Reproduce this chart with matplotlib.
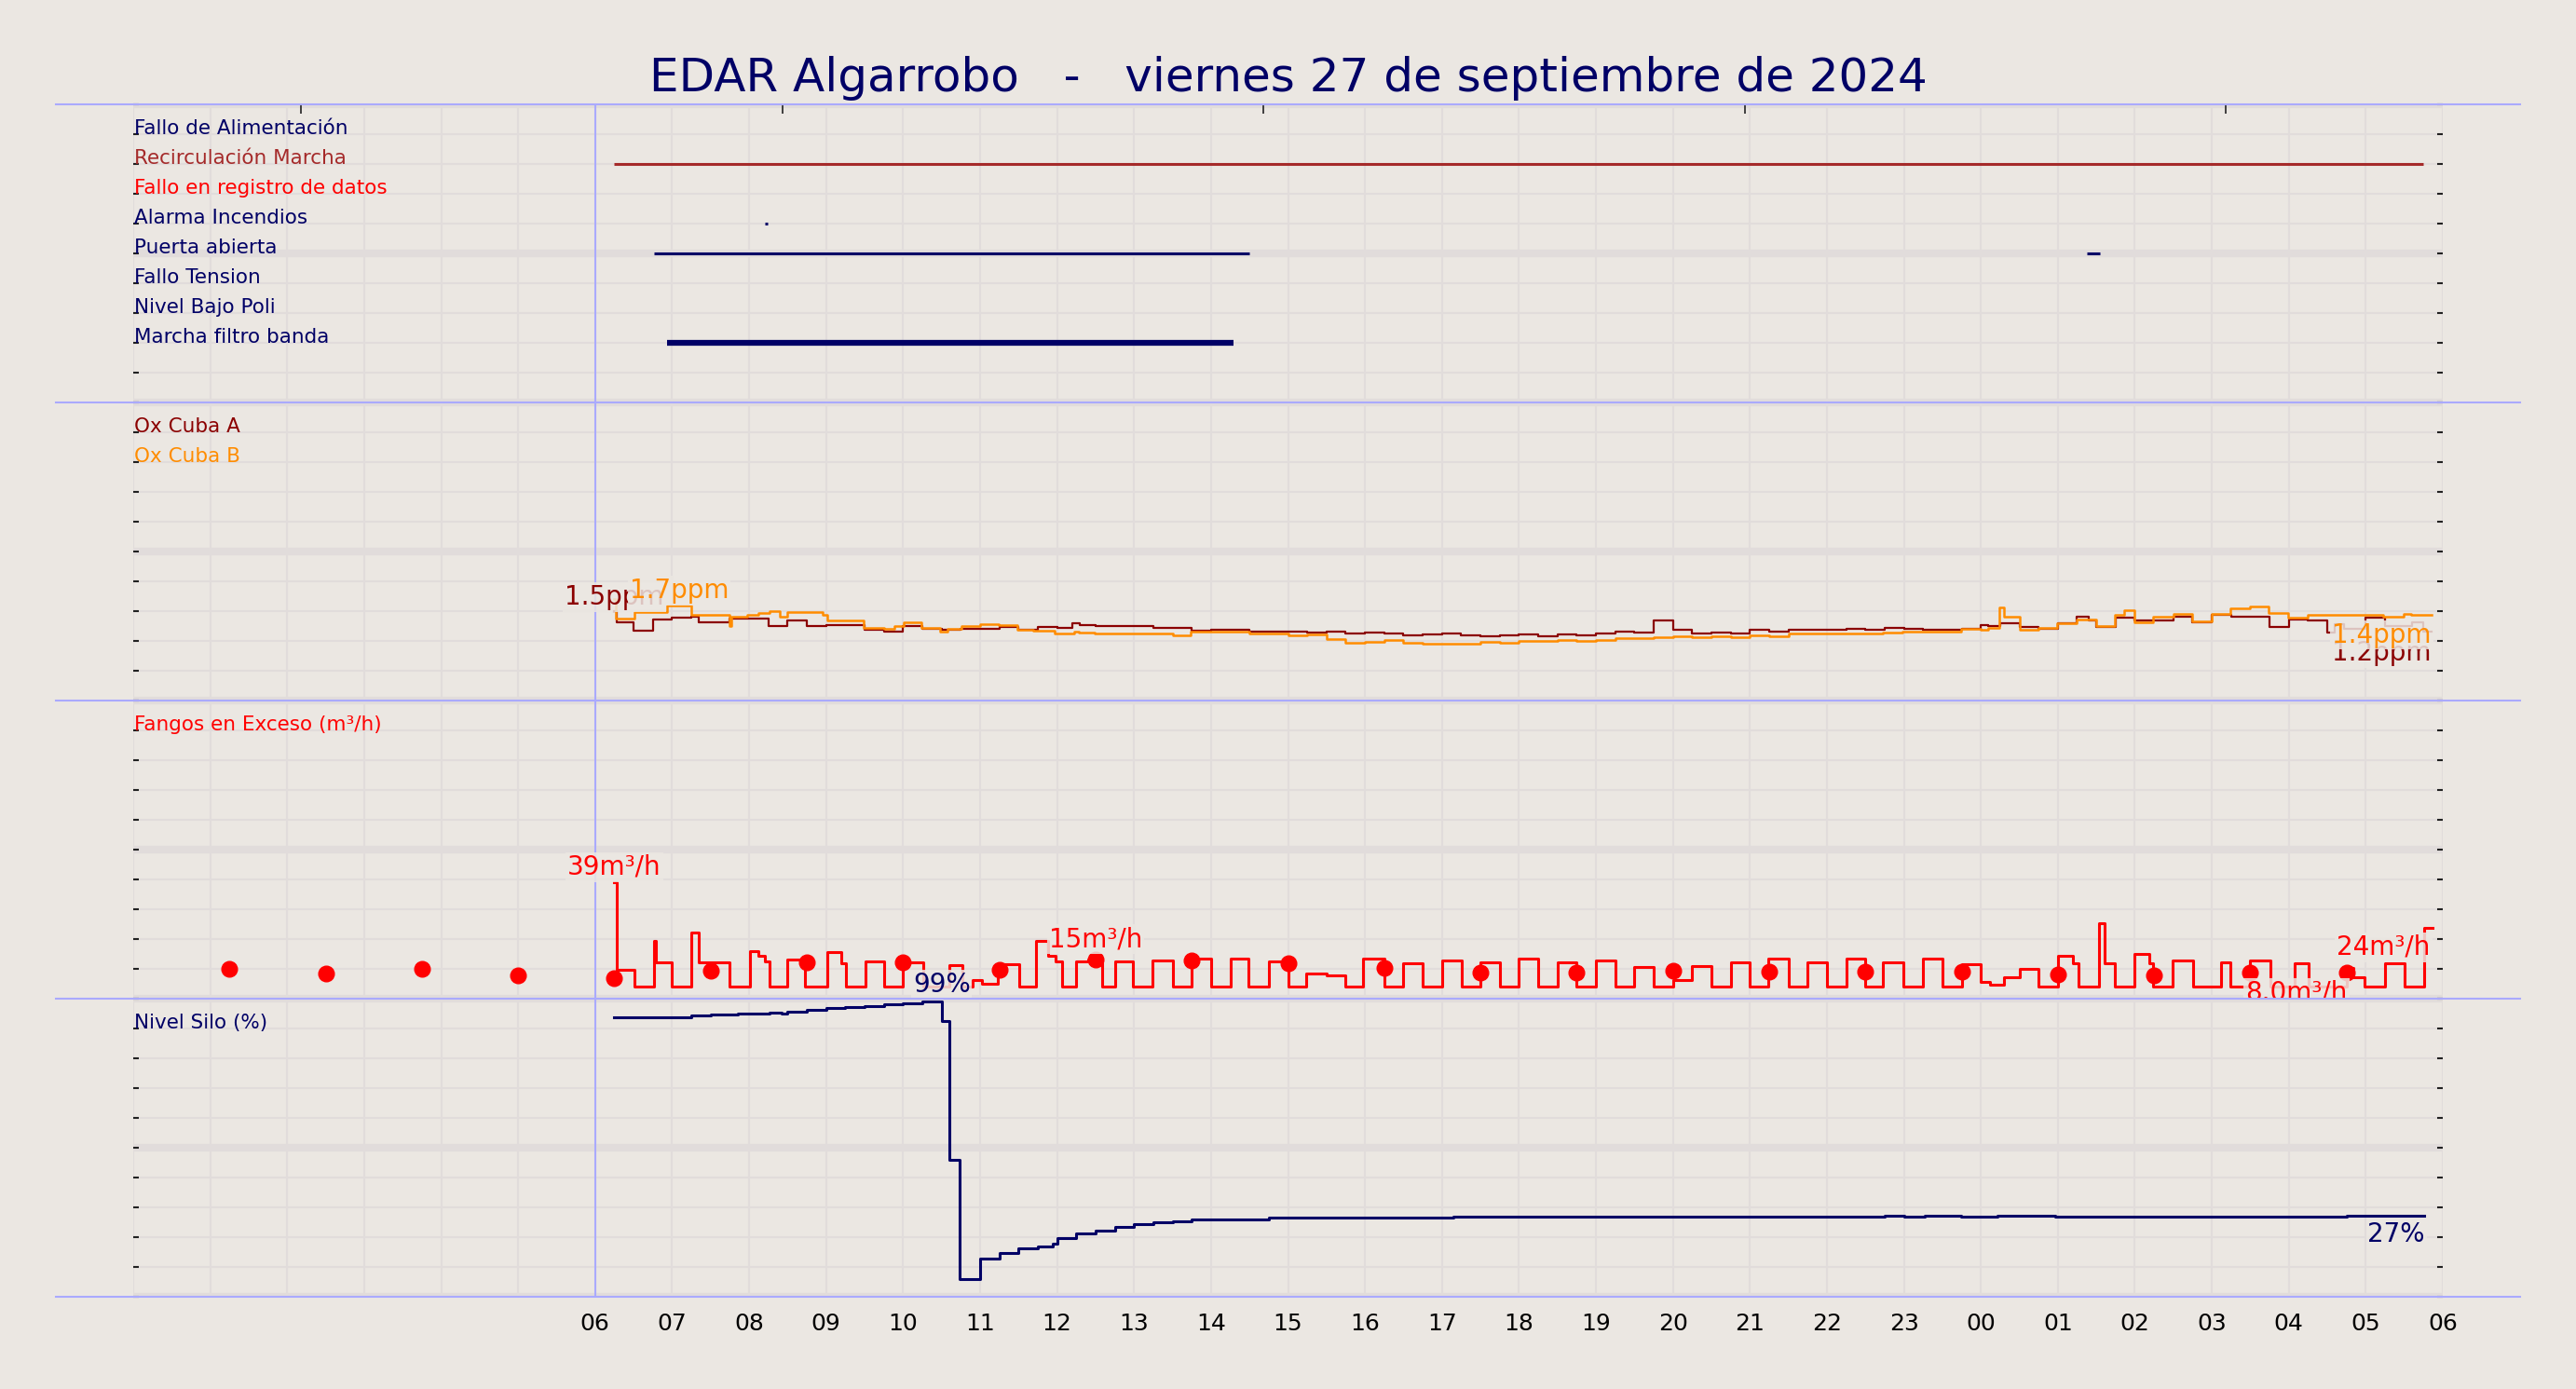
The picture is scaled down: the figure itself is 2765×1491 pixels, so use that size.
import numpy as np
import matplotlib
matplotlib.use('Agg')
import matplotlib.pyplot as plt
from matplotlib.lines import Line2D

BG = '#ebe7e2'
GRID = '#e1dcdb'
SEP = '#aaaaff'
NAVY = '#000066'

TITLE = 'EDAR Algarrobo   -   viernes 27 de septiembre de 2024'

# ---- panel 1: digital signals (hours since 00:00 of the day) ----
status_labels = ['Fallo de Alimentación', 'Recirculación Marcha', 'Fallo en registro de datos',
                 'Alarma Incendios', 'Puerta abierta', 'Fallo Tension', 'Nivel Bajo Poli',
                 'Marcha filtro banda']
status_colors = [NAVY, '#a52a2a', 'red', NAVY, NAVY, NAVY, NAVY, NAVY]
status_on = [[], [(6.25, 29.75)], [], [(8.20, 8.24)], [(6.76, 14.50), (25.38, 25.55)],
             [], [], [(6.94, 14.29)]]
status_lw = [2, 2.2, 2, 2.2, 2.2, 2, 2, 4.5]
top_ticks = [2.18, 8.43, 14.68, 20.93, 27.18]

# ---- panel 2: oxygen ----
ox_a_t = [6.25, 6.28, 6.50, 6.75, 7.00, 7.25, 7.35, 7.50, 7.75, 8.00, 8.25, 8.50, 8.75, 9.00,
          9.25, 9.50, 9.75, 10.00, 10.25, 10.50, 10.75, 11.00, 11.25, 11.50, 11.75, 12.00,
          12.20, 12.30, 12.50, 13.25, 13.75, 14.00, 14.25, 14.50, 15.25, 15.50, 15.75, 16.00,
          16.25, 16.50, 16.75, 17.00, 17.25, 17.50, 17.75, 18.00, 18.25, 18.50, 18.75, 19.00,
          19.25, 19.50, 19.75, 20.00, 20.25, 20.50, 20.75, 21.00, 21.25, 21.50, 22.25, 22.50,
          22.75, 23.00, 23.25, 23.75, 24.00, 24.10, 24.25, 24.50, 24.75, 25.00, 25.25, 25.40,
          25.50, 25.75, 26.00, 26.50, 26.75, 27.00, 27.25, 27.50, 27.75, 28.00, 28.25, 28.50,
          28.60, 28.72, 29.00, 29.25, 29.60, 29.75]
ox_a_v = [1.50, 1.32, 1.17, 1.36, 1.39, 1.41, 1.31, 1.32, 1.38, 1.38, 1.25, 1.34, 1.25, 1.27,
          1.27, 1.19, 1.15, 1.25, 1.21, 1.19, 1.20, 1.21, 1.24, 1.18, 1.23, 1.22,
          1.30, 1.26, 1.25, 1.22, 1.17, 1.19, 1.18, 1.16, 1.135, 1.16, 1.125, 1.145,
          1.125, 1.09, 1.115, 1.13, 1.09, 1.08, 1.10, 1.115, 1.08, 1.115, 1.09, 1.125,
          1.16, 1.14, 1.35, 1.18, 1.125, 1.145, 1.125, 1.18, 1.15, 1.18, 1.20, 1.18,
          1.22, 1.20, 1.19, 1.20, 1.27, 1.25, 1.30, 1.24, 1.20, 1.29, 1.40, 1.34,
          1.24, 1.39, 1.34, 1.41, 1.31, 1.44, 1.40, 1.41, 1.24, 1.36, 1.34, 1.14,
          1.28, 1.20, 1.39, 1.25, 1.32, 1.15]
ox_b_t = [6.25, 6.27, 6.51, 6.94, 7.25, 7.74, 7.77, 7.98, 8.12, 8.26, 8.40, 8.50, 8.95, 9.02,
          9.49, 9.75, 9.89, 10.01, 10.24, 10.48, 10.58, 10.76, 11.00, 11.24, 11.49, 11.69,
          11.97, 12.22, 12.28, 12.49, 12.74, 13.50, 13.74, 14.50, 15.00, 15.25, 15.50, 15.75,
          16.00, 16.25, 16.50, 16.75, 17.50, 17.75, 18.00, 18.50, 18.75, 19.00, 19.25, 19.75,
          20.00, 20.25, 20.50, 20.75, 21.00, 21.25, 21.50, 22.73, 22.98, 23.74, 24.00, 24.10,
          24.24, 24.30, 24.50, 24.75, 24.99, 25.24, 25.50, 25.74, 25.86, 26.00, 26.24, 26.50,
          26.74, 27.00, 27.24, 27.49, 27.74, 27.99, 28.24, 29.23, 29.49, 29.59]
ox_b_v = [1.70, 1.38, 1.49, 1.60, 1.44, 1.25, 1.41, 1.44, 1.47, 1.50, 1.41, 1.48, 1.44, 1.34,
          1.22, 1.20, 1.25, 1.32, 1.22, 1.15, 1.20, 1.25, 1.28, 1.27, 1.18, 1.17,
          1.125, 1.15, 1.14, 1.125, 1.12, 1.09, 1.15, 1.125, 1.09, 1.115, 1.03, 0.97,
          0.99, 1.02, 0.97, 0.95, 0.99, 0.97, 1.00, 1.02, 1.00, 1.02, 1.04, 1.07,
          1.08, 1.07, 1.08, 1.07, 1.10, 1.08, 1.12, 1.14, 1.15, 1.20, 1.18, 1.22,
          1.57, 1.40, 1.19, 1.22, 1.30, 1.36, 1.25, 1.43, 1.52, 1.31, 1.41, 1.46,
          1.33, 1.46, 1.55, 1.58, 1.47, 1.39, 1.43, 1.41, 1.46, 1.43]
ox_end = 29.86

# ---- panel 3: excess sludge (m3/h) ----
fangos_t = [6.25, 6.28, 6.51, 6.76, 6.79, 7.00, 7.25, 7.35, 7.75, 8.01, 8.12, 8.21, 8.27, 8.49,
            8.73, 9.01, 9.20, 9.26, 9.51, 9.75, 10.00, 10.26, 10.60, 10.77, 10.90, 11.02, 11.23,
            11.51, 11.73, 11.88, 11.98, 12.07, 12.25, 12.41, 12.59, 12.75, 12.99, 13.24, 13.50,
            13.75, 14.00, 14.25, 14.49, 14.75, 15.00, 15.24, 15.50, 15.75, 15.98, 16.25, 16.50,
            16.75, 17.00, 17.26, 17.50, 17.75, 18.00, 18.25, 18.50, 18.75, 19.00, 19.25, 19.50,
            19.75, 20.00, 20.25, 20.50, 20.75, 21.00, 21.24, 21.50, 21.75, 22.00, 22.25, 22.50,
            22.73, 22.99, 23.25, 23.50, 23.75, 24.00, 24.12, 24.30, 24.50, 24.75, 25.00, 25.19,
            25.27, 25.53, 25.61, 25.74, 26.00, 26.19, 26.24, 26.49, 26.76, 27.12, 27.24, 27.50,
            27.76, 28.07, 28.26, 28.75, 28.84, 28.98, 29.25, 29.50, 29.76]
fangos_v = [39.0, 9.7, 4.0, 19.4, 12.1, 4.0, 22.3, 12.1, 4.0, 16.0, 14.5, 12.6, 4.0, 13.0,
            4.0, 15.7, 12.0, 4.0, 12.6, 4.0, 12.1, 4.0, 11.3, 4.0, 6.3, 4.9, 11.5,
            4.0, 19.4, 14.5, 12.6, 4.0, 12.6, 13.1, 4.0, 12.6, 4.0, 12.9, 4.0,
            13.4, 4.0, 13.4, 4.0, 12.6, 4.0, 8.4, 7.9, 4.0, 13.4, 4.0, 11.9,
            4.0, 12.9, 4.0, 12.3, 4.0, 13.4, 4.0, 12.3, 4.0, 12.9, 4.0, 10.6,
            4.0, 6.2, 11.0, 4.0, 12.3, 4.0, 13.4, 4.0, 12.3, 4.0, 13.4, 4.0,
            12.3, 4.0, 13.3, 4.0, 11.6, 5.6, 4.8, 7.1, 10.0, 4.0, 14.5, 11.9,
            4.0, 25.4, 11.9, 4.0, 14.9, 11.9, 4.0, 12.9, 4.0, 12.3, 4.0, 12.9,
            4.0, 11.9, 4.0, 10.2, 7.1, 4.0, 11.9, 4.0, 23.75]
fangos_end = 29.87
fangos_avg_t = [1.25, 2.5, 3.75, 5.0, 6.25, 7.5, 8.75, 10.0, 11.25, 12.5, 13.75, 15.0, 16.25,
                17.5, 18.75, 20.0, 21.25, 22.5, 23.75, 25.0, 26.25, 27.5, 28.75]
fangos_avg_v = [9.9, 8.3, 9.9, 7.9, 6.9, 9.5, 12.1, 12.3, 9.7, 13.1, 12.8, 11.8, 10.2,
                8.9, 8.9, 9.5, 9.1, 9.1, 9.2, 8.1, 7.7, 8.7, 8.7]

# ---- panel 4: silo level (%) ----
silo_t = [6.25, 7.25, 7.50, 7.86, 8.26, 8.42, 8.50, 8.75, 9.00, 9.25, 9.50, 9.75, 10.00,
          10.25, 10.50, 10.60, 10.74, 11.00, 11.25, 11.50, 11.75, 11.95, 12.00, 12.25, 12.50,
          12.75, 13.00, 13.25, 13.50, 13.75, 14.00, 14.75, 17.15, 22.75, 23.00, 23.27, 23.74,
          24.22, 24.96, 28.75]
silo_v = [93.8, 94.3, 94.6, 95.0, 95.3, 94.9, 95.6, 96.4, 96.9, 97.2, 97.6, 98.1, 98.5,
          99.0, 92.6, 45.9, 6.0, 12.8, 14.8, 16.2, 17.0, 17.8, 19.7, 21.2, 22.2,
          23.5, 24.4, 25.0, 25.4, 25.9, 26.0, 26.6, 27.0, 27.3, 27.0, 27.3, 27.0,
          27.3, 27.0, 27.3]
silo_end = 29.76

# value labels: text, x, y, color, ha, va
ox_labels = [('1.5ppm', 6.25, 1.52, '#8b0000', 'center', 'bottom'),
             ('1.7ppm', 7.09, 1.62, '#ff8c00', 'center', 'bottom'),
             ('1.2ppm', 29.85, 1.01, '#8b0000', 'right', 'top'),
             ('1.4ppm', 29.85, 1.32, '#ff8c00', 'right', 'top')]
fangos_labels = [('39m³/h', 6.25, 39.7, 'red', 'center', 'bottom'),
                 ('15m³/h', 12.5, 15.5, 'red', 'center', 'bottom'),
                 ('8.0m³/h', 28.1, 6.3, 'red', 'center', 'top'),
                 ('24m³/h', 29.84, 21.6, 'red', 'right', 'top')]
silo_labels = [('99%', 10.5, 100.4, NAVY, 'center', 'bottom'),
               ('27%', 29.77, 25.2, NAVY, 'right', 'top')]


def step_xy(t, v, end):
    return list(t) + [end], list(v) + [v[-1]]


def style_axis(ax, ymax):
    ax.set_facecolor(BG)
    ax.set_xlim(0, 30)
    ax.set_ylim(0, ymax)
    ax.set_xticks(range(31))
    ax.set_yticks(np.linspace(0, ymax, 11))
    ax.grid(True, color=GRID, lw=1.5, zorder=0)
    ax.set_axisbelow(True)
    for y in (0, ymax / 2, ymax):
        ax.axhline(y, color=GRID, lw=6, zorder=0.5)
    ax.axvline(6, color=SEP, lw=1.5, zorder=1)
    for s in ax.spines.values():
        s.set_visible(False)
    ax.tick_params(axis='y', direction='in', left=True, right=True, labelleft=False,
                   length=4, width=1.5, color='#222222')
    ax.tick_params(axis='x', length=0, labelbottom=False)


def put_labels(ax, labels):
    for txt, x, y, c, ha, va in labels:
        ax.text(x, y, txt, color=c, ha=ha, va=va, fontsize=20, zorder=5, clip_on=False,
                bbox=dict(facecolor=BG, edgecolor='none', alpha=0.85, pad=1.5))


fig = plt.figure(figsize=(27.65, 14.91), dpi=100, facecolor=BG)
left, width, h = 143 / 2765, (2622 - 143) / 2765, 320 / 1491
bottoms = [1 - 432 / 1491, 1 - 752 / 1491, 1 - 1072 / 1491, 1 - 1392 / 1491]
axs = [fig.add_axes([left, b, width, h]) for b in bottoms]
LBL = 15.5

# panel 1
ax = axs[0]
style_axis(ax, 10)
for i, (name, c) in enumerate(zip(status_labels, status_colors)):
    y = 9 - i
    ax.text(0.01, y, name, color=c, fontsize=LBL, ha='left', va='baseline', zorder=4)
    for a, b in status_on[i]:
        ax.plot([a, b], [y, y], color=c, lw=status_lw[i], solid_capstyle='butt', zorder=3)
ax.set_xticks(top_ticks, minor=True)
ax.tick_params(axis='x', which='minor', top=True, bottom=False, direction='in',
               length=7, width=1.2, color='#222222')

# panel 2
ax = axs[1]
style_axis(ax, 5)
x, y = step_xy(ox_a_t, ox_a_v, ox_end)
ax.plot(x, y, drawstyle='steps-post', color='#8b0000', lw=1.6, zorder=3)
x, y = step_xy(ox_b_t, ox_b_v, ox_end)
ax.plot(x, y, drawstyle='steps-post', color='#ff8c00', lw=1.8, zorder=3)
ax.text(0.01, 4.5, 'Ox Cuba A', color='#8b0000', fontsize=LBL, va='baseline', zorder=4)
ax.text(0.01, 4.0, 'Ox Cuba B', color='#ff8c00', fontsize=LBL, va='baseline', zorder=4)
put_labels(ax, ox_labels)

# panel 3
ax = axs[2]
style_axis(ax, 100)
x, y = step_xy(fangos_t, fangos_v, fangos_end)
ax.plot(x, y, drawstyle='steps-post', color='red', lw=2.2, zorder=3)
ax.plot(fangos_avg_t, fangos_avg_v, 'o', color='red', ms=12, zorder=3)
ax.text(0.01, 90, 'Fangos en Exceso (m³/h)', color='red', fontsize=LBL, va='baseline', zorder=4)
put_labels(ax, fangos_labels)

# panel 4
ax = axs[3]
style_axis(ax, 100)
x, y = step_xy(silo_t, silo_v, silo_end)
ax.plot(x, y, drawstyle='steps-post', color=NAVY, lw=2.2, zorder=3)
ax.text(0.01, 90, 'Nivel Silo (%)', color=NAVY, fontsize=LBL, va='baseline', zorder=4)
put_labels(ax, silo_labels)
ax.set_xticklabels(['' if hr < 6 else '%02d' % (hr % 24) for hr in range(31)])
ax.tick_params(axis='x', labelbottom=True, labelsize=18, pad=12, labelcolor='black')

# separators between panels
for yp in (112, 432, 752, 1072, 1392):
    fig.add_artist(Line2D([60 / 2765, 2705 / 2765], [1 - yp / 1491] * 2, color=SEP, lw=1.5))

fig.text(0.5, 1 - 84 / 1491, TITLE, ha='center', va='center', fontsize=36, color=NAVY)

fig.savefig('out.png', dpi=100, facecolor=BG)
